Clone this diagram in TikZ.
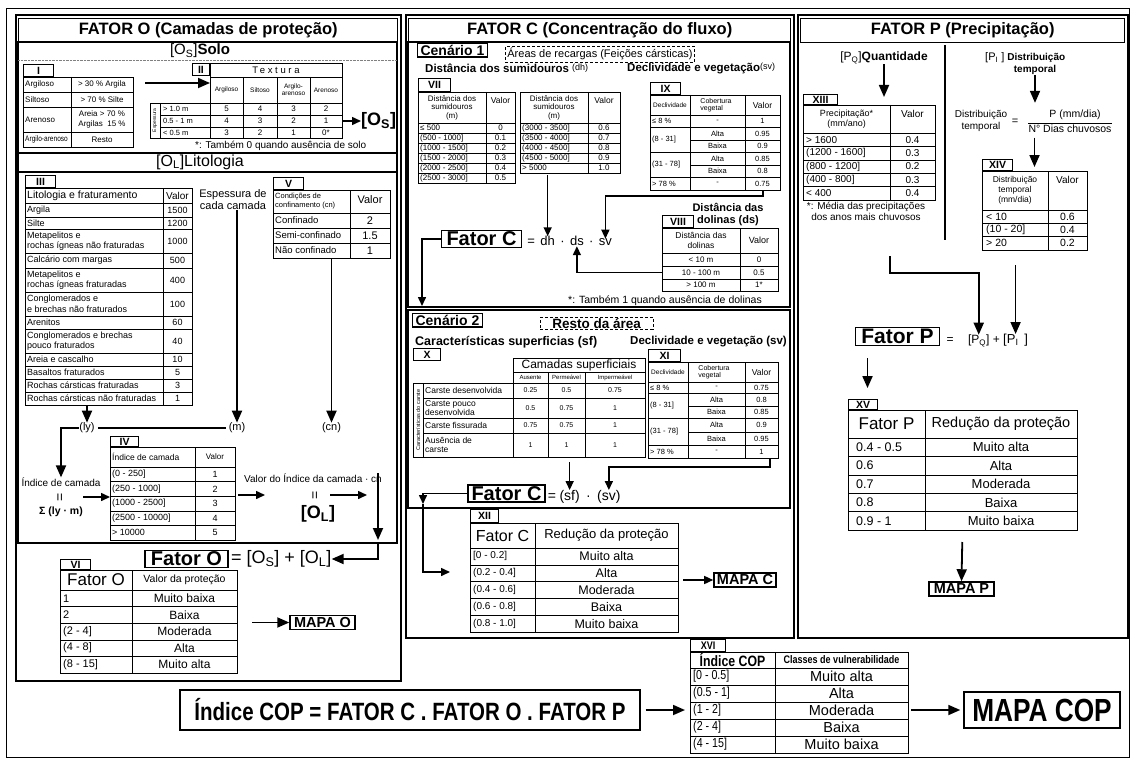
\documentclass[tikz,border=0pt]{standalone}
\usepackage{fontspec}
\setmainfont{Liberation Sans}
\newfontfamily\narrowfont[FakeStretch=0.82]{Liberation Sans}
\usepackage{tikz}
\usetikzlibrary{arrows.meta, positioning}
\newcommand{\fsz}[2]{\fontsize{#1}{#2}\selectfont}

\begin{document}
\begin{tikzpicture}[
        x=1pt, y=-1pt,
        panel/.style={draw, line width=1.8pt, anchor=north west, inner sep=0pt},
        sec/.style={line width=1.1pt},
        ttl/.style={draw, line width=1.4pt, anchor=north west, inner sep=0pt, minimum height=24pt, font=\fsz{16.5}{18}\bfseries},
        tbl/.style={draw, line width=0.9pt, anchor=north west, inner sep=0pt, outer sep=0pt},
        grid/.style={line width=0.6pt},
        tab/.style={draw, line width=1.1pt, anchor=south west, inner sep=0pt, minimum height=12pt, font=\fsz{10.5}{10.5}\bfseries},
        txt/.style={inner sep=0pt, align=center},
        key/.style={draw, line width=1.5pt, inner sep=2pt},
        dsh/.style={draw, densely dashed, line width=0.8pt, inner sep=2pt},
        arr/.style={-{Triangle[length=9pt,width=8pt]}, line width=1.5pt},
        arrL/.style={-{Triangle[length=12pt,width=10pt]}, line width=1.8pt}
    ]
        \path[fill=white, use as bounding box] (0,0) rectangle (1131,757);
        \draw[line width=0.8pt] (6,8) rectangle (1129,757);

        % ---------- FATOR O ----------
        \node[panel, minimum width=385pt, minimum height=666pt] (pO) at (15,14) {};
        \node[ttl, minimum width=379pt] (ttlO) at (18,18) {FATOR O (Camadas de proteção)};

        % Solo
        \draw[sec] (18,42) rectangle (397,153);
        \draw[gray, densely dotted] (18,60) -- (397,60);
        \node[txt, font=\fsz{15}{16}] (solo) at (200,51) {[O\textsubscript{S}]\textbf{Solo}};

        % Tabela I
        \node[tbl, minimum width=110pt, minimum height=70pt] (t1) at (23,77) {};
        \node[tab, minimum width=30pt] at (t1.north west) {I};
        \draw[grid] (71,77) -- (71,147);
        \foreach \y in {92,107,132} \draw[grid] (23,\y) -- (133,\y);
        \foreach \a/\b/\n/\v in {77/92/Argiloso/{> 30 \% Argila}, 92/107/Siltoso/{> 70 \% Silte}, 107/132/Arenoso/{Areia > 70 \%\\Argilas \ 15 \%}, 132/147/{\narrowfont Argilo-arenoso}/Resto}{
            \node[txt, anchor=west, font=\fsz{8}{9}] at (25,{(\a+\b)/2}) {\n};
            \node[txt, font=\fsz{8}{9.5}] at (102,{(\a+\b)/2}) {\v};
        }

        % Tabela II
        \node[tbl, minimum width=132pt, minimum height=14pt, font=\fsz{9.5}{10}\addfontfeature{LetterSpace=28}] (t2h) at (210,63) {Textura};
        \node[tab, minimum width=17pt, anchor=north east] at (t2h.north west) {II};
        \node[tbl, minimum width=132pt, minimum height=26pt] (t2s) at (210,77) {};
        \node[tbl, minimum width=192pt, minimum height=35pt] (t2) at (150,103) {};
        \foreach \x in {243,277,310} \draw[grid] (\x,77) -- (\x,138);
        \draw[grid] (160,103) -- (160,138) (210,103) -- (210,138);
        \foreach \y in {115,127} \draw[grid] (160,\y) -- (342,\y);
        \foreach \x/\t in {226.5/Argiloso, 260/Siltoso, 293.5/{Argilo-\\arenoso}, 326/Arenoso}
            \node[txt, font=\fsz{6.5}{7}] at (\x,90) {\t};
        \node[txt, rotate=90, font=\fsz{5}{5}] at (155,120.5) {Espessura};
        \foreach \y/\e/\p/\q/\r/\s in {109/{> 1.0 m}/5/4/3/2, 121/{0.5 - 1 m}/4/3/2/1, 132.5/{< 0.5 m}/3/2/1/0*}{
            \node[txt, anchor=west, font=\fsz{7.5}{8}] at (163,\y) {\e};
            \foreach \x/\t in {226.5/\p, 260/\q, 293.5/\r, 326/\s}
                \node[txt, font=\fsz{8}{8}] at (\x,\y) {\t};
        }
        \coordinate (aI) at (145,83);
        \draw[arrL] (aI) -- (aI -| t2s.west);
        \node[txt, anchor=west, font=\fsz{18}{18}\bfseries] (os) at (361,121) {[O\textsubscript{S}]};
        \draw[arr] (t2.east |- os.west) -- (os.west);
        \node[txt, anchor=west, font=\fsz{10}{10}] (fn1) at (195,146) {*: Também 0 quando ausência de solo};

        % Litologia
        \draw[sec] (18,153) rectangle (397,543);
        \draw[sec] (18,172) -- (397,172);
        \node[txt, font=\fsz{16}{16}] (lito) at (200,162) {[O\textsubscript{L}]Litologia};

        % Tabela III
        \node[tbl, minimum width=167pt, minimum height=217pt] (t3) at (25,188) {};
        \node[tab, minimum width=30pt] at (t3.north west) {III};
        \draw[grid] (163,188) -- (163,405);
        \foreach \y in {203,217,229,253,268,292,316,329,353,366,379,392} \draw[grid] (25,\y) -- (192,\y);
        \node[txt, anchor=west, font=\fsz{10.5}{11}] at (27,195.5) {Litologia e fraturamento};
        \node[txt, font=\fsz{10}{11}] at (177.5,195.5) {Valor};
        \foreach \a/\b/\n/\v in {203/217/Argila/1500, 217/229/Silte/1200,
            229/253/{Metapelitos e\\rochas ígneas não fraturadas}/1000,
            253/268/{Calcário com margas}/500,
            268/292/{Metapelitos e\\rochas ígneas fraturadas}/400,
            292/316/{Conglomerados e\\e brechas não fraturados}/100,
            316/329/Arenitos/60,
            329/353/{Conglomerados e brechas\\pouco fraturados}/40,
            353/366/{Areia e cascalho}/10, 366/379/{Basaltos fraturados}/5,
            379/392/{Rochas cársticas fraturadas}/3, 392/405/{Rochas cársticas não fraturadas}/1}{
            \node[txt, anchor=west, align=left, font=\fsz{9}{10.5}] at (27,{(\a+\b)/2}) {\n};
            \node[txt, font=\fsz{9}{10}] at (177.5,{(\a+\b)/2}) {\v};
        }

        \node[txt, font=\fsz{11}{12}] (esp) at (233,200) {Espessura de\\cada camada};

        % Tabela V
        \node[tbl, minimum width=117pt, minimum height=68pt] (t5) at (273,190) {};
        \node[tab, minimum width=30pt] at (t5.north west) {V};
        \draw[grid] (350,190) -- (350,258);
        \foreach \y in {213,228,243} \draw[grid] (273,\y) -- (390,\y);
        \node[txt, anchor=west, align=left, font=\fsz{7.5}{9}] at (275,201.5) {Condições de\\confinamento (cn)};
        \node[txt, font=\fsz{11}{12}] at (370,200) {Valor};
        \foreach \a/\b/\n/\v in {213/228/Confinado/2, 228/243/Semi-confinado/1.5, 243/258/{Não confinado}/1}{
            \node[txt, anchor=west, font=\fsz{9.5}{10}] at (275,{(\a+\b)/2}) {\n};
            \node[txt, font=\fsz{11}{11}] at (370,{(\a+\b)/2}) {\v};
        }

        % (ly), (m), (cn)
        \node[txt, font=\fsz{11}{12}] (ly) at (87,428) {(ly)};
        \node[txt, font=\fsz{11}{12}] (m) at (237,428) {(m)};
        \node[txt, font=\fsz{11}{12}] (cn) at (331.5,428) {(cn)};
        \draw[arrL] (t3.south -| ly) -- (ly.north);
        \draw[arrL] (esp.south -| m) -- (m.north);
        \draw[arrL] (t5.south -| cn) -- (cn.north);
        \draw[line width=1.5pt, shorten <=3pt, shorten >=3pt] (ly.east) -- (m.west);

        % Indice de camada
        \node[txt, font=\fsz{10}{11}] (idx) at (61,482) {Índice de camada};
        \node[txt, rotate=90, font=\fsz{14}{14}] (eqA) at (61,497) {=};
        \node[txt, font=\fsz{10.5}{11}\bfseries] (sig) at (61,512) {Σ (ly · m)};
        \draw[arrL] (ly.west) -| (idx.north);

        % Tabela IV
        \node[tbl, minimum width=125pt, minimum height=93pt] (t4) at (110,447) {};
        \node[tab, minimum width=28pt, minimum height=10pt] at (t4.north west) {IV};
        \draw[grid] (195,447) -- (195,540);
        \foreach \y in {467,481.6,496.2,510.8,525.4} \draw[grid] (110,\y) -- (235,\y);
        \node[txt, anchor=west, font=\fsz{8.5}{9}] at (112,457) {Índice de camada};
        \node[txt, font=\fsz{8}{9}] at (215,457) {Valor};
        \foreach \i/\r/\v in {0/{(0 - 250]}/1, 1/{(250 - 1000]}/2, 2/{(1000 - 2500]}/3, 3/{(2500 - 10000]}/4, 4/{> 10000}/5}{
            \node[txt, anchor=west, font=\fsz{9}{9}] at (112,{474.3+14.6*\i}) {\r};
            \node[txt, font=\fsz{9}{9}] at (215,{474.3+14.6*\i}) {\v};
        }
        \draw[arr] ([xshift=22pt]eqA.center) -- (eqA -| t4.west);

        % Valor do indice -> [O_L]
        \node[txt, font=\fsz{10}{11}] (vic) at (313,478) {Valor do Índice da camada · cn};
        \node[txt, rotate=90, font=\fsz{14}{14}] (eqB) at (316,495) {=};
        \node[txt, font=\fsz{18}{18}\bfseries] (ol) at (318,514) {[O\textsubscript{L}]};
        \draw[arr, shorten <=3pt] (t4.east |- eqB) -- ++(30,0);
        \draw[arr] ([xshift=14pt]eqB.center) -- ++(37,0);
        \coordinate (vdown) at (378,473);
        \draw[arrL] (vdown) -- (378,540);

        % Fator O
        \node[key, font=\fsz{20}{20}\bfseries, inner xsep=6pt, inner ysep=1.5pt] (fatorO) at (186.5,559) {Fator O};
        \node[txt, anchor=west, font=\fsz{18}{18}] (foeq) at ([xshift=2pt]fatorO.east) {= [O\textsubscript{S}] + [O\textsubscript{L}]};
        \coordinate (vjoin) at (378,543);
        \draw[arrL] (vjoin) |- (foeq.east);

        % Tabela VI
        \node[tbl, minimum width=177pt, minimum height=103pt] (t6) at (60,570) {};
        \node[tab, minimum width=30pt, minimum height=10pt] at (t6.north west) {VI};
        \draw[grid] (132,570) -- (132,673);
        \foreach \y in {590,606.6,623.2,639.8,656.4} \draw[grid] (60,\y) -- (237,\y);
        \node[txt, font=\fsz{17}{17}] at (96,580) {Fator O};
        \node[txt, font=\fsz{10.5}{11}] at (184.5,580) {Valor da proteção};
        \foreach \i/\r/\v in {0/1/{Muito baixa}, 1/2/Baixa, 2/{(2 - 4]}/Moderada, 3/{(4 - 8]}/Alta, 4/{(8 - 15]}/{Muito alta}}{
            \node[txt, anchor=west, font=\fsz{11}{11}] at (63,{598.3+16.6*\i}) {\r};
            \node[txt, font=\fsz{12}{12}] at (184.5,{598.3+16.6*\i}) {\v};
        }
        \node[key, font=\fsz{14.5}{14.5}\bfseries, inner xsep=4pt] (mapaO) at (322.5,622.5) {MAPA O};
        \draw[arrL, shorten <=15pt] (t6.east |- mapaO) -- (mapaO.west);

        % ---------- FATOR C ----------
        \node[panel, minimum width=388pt, minimum height=623pt] (pC) at (405,14) {};
        \node[ttl, minimum width=382pt] (ttlC) at (408,18) {FATOR C (Concentração do fluxo)};

        % Cenario 1
        \draw[sec] (408,42) rectangle (790,307);
        \node[key, line width=1.1pt, anchor=north west, font=\fsz{14}{14}\bfseries, inner xsep=3pt, inner ysep=1.5pt] (cen1) at (417,43) {Cenário 1};
        \node[dsh, anchor=north west, font=\fsz{11}{11}] (rec) at (505,46) {Áreas de recargas (Feições cársticas)};
        \node[txt, anchor=west, font=\fsz{11.5}{12}\bfseries] (dhtit) at (425,68) {Distância dos sumidouros \raisebox{2pt}{\fsz{9}{9}\mdseries(dh)}};
        \node[txt, anchor=west, font=\fsz{11.5}{12}\bfseries] (svtit) at (627,68) {Declividade e vegetação\raisebox{2pt}{\fsz{9}{9}\mdseries(sv)}};

        % Tabela VII
        \node[tbl, minimum width=97pt, minimum height=91pt] (t7a) at (418,92) {};
        \node[tab, minimum width=32pt, minimum height=13pt] at (t7a.north west) {VII};
        \draw[grid] (486,92) -- (486,183);
        \foreach \y in {123,133,143,153,163,173} \draw[grid] (418,\y) -- (515,\y);
        \node[txt, font=\fsz{8}{8.5}] at (452,107.5) {Distância dos\\sumidouros\\(m)};
        \node[txt, font=\fsz{8.5}{9}] at (500.5,100) {Valor};
        \foreach \i/\r/\v in {0/{≤ 500}/0, 1/{(500 - 1000]}/0.1, 2/{(1000 - 1500]}/0.2, 3/{(1500 - 2000]}/0.3, 4/{(2000 - 2500]}/0.4, 5/{(2500 - 3000]}/0.5}{
            \node[txt, anchor=west, font=\fsz{8}{8}] at (420,{128+10*\i}) {\r};
            \node[txt, font=\fsz{8}{8}] at (500.5,{128+10*\i}) {\v};
        }
        \node[tbl, minimum width=100pt, minimum height=81pt] (t7b) at (520,92) {};
        \draw[grid] (588,92) -- (588,173);
        \foreach \y in {123,133,143,153,163} \draw[grid] (520,\y) -- (620,\y);
        \node[txt, font=\fsz{8}{8.5}] at (554,107.5) {Distância dos\\sumidouros\\(m)};
        \node[txt, font=\fsz{8.5}{9}] at (604,100) {Valor};
        \foreach \i/\r/\v in {0/{(3000 - 3500]}/0.6, 1/{(3500 - 4000]}/0.7, 2/{(4000 - 4500]}/0.8, 3/{(4500 - 5000]}/0.9, 4/{> 5000}/1.0}{
            \node[txt, anchor=west, font=\fsz{8}{8}] at (522,{128+10*\i}) {\r};
            \node[txt, font=\fsz{8}{8}] at (604,{128+10*\i}) {\v};
        }

        % Tabela IX
        \node[tbl, minimum width=130pt, minimum height=95pt] (t9) at (650,95) {};
        \node[tab, minimum width=30pt] at (t9.north west) {IX};
        \draw[grid] (690,95) -- (690,190) (745,95) -- (745,190);
        \foreach \y in {115,127.5,152.5,177.5} \draw[grid] (650,\y) -- (780,\y);
        \foreach \y in {140,165} \draw[grid] (690,\y) -- (780,\y);
        \node[txt, font=\fsz{6.5}{7}] at (670,105) {Declividade};
        \node[txt, align=left, font=\fsz{7}{7.5}] at (716,105) {Cobertura\\vegetal};
        \node[txt, font=\fsz{8.5}{9}] at (762.5,105) {Valor};
        \foreach \y/\d in {121.25/{≤ 8 \%}, 140/{(8 - 31]}, 165/{(31 - 78]}, 183.75/{> 78 \%}}
            \node[txt, anchor=west, font=\fsz{7.5}{8}] at (652,\y) {\d};
        \foreach \y/\c/\v in {121.25/-/1, 133.75/Alta/0.95, 146.25/Baixa/0.9, 158.75/Alta/0.85, 171.25/Baixa/0.8, 183.75/-/0.75}{
            \node[txt, font=\fsz{7.5}{8}] at (717.5,\y) {\c};
            \node[txt, font=\fsz{7.5}{8}] at (762.5,\y) {\v};
        }

        % Fator C = dh . ds . sv
        \node[key, font=\fsz{20}{20}\bfseries, inner xsep=5pt, inner ysep=1.5pt] (fatorC1) at (481.5,239) {Fator C};
        \node[txt, font=\fsz{13}{13}, base right=5pt of fatorC1] (eqc) {=};
        \node[txt, font=\fsz{13}{13}, base right=5pt of eqc] (dh) {dh};
        \node[txt, font=\fsz{13}{13}, base right=5pt of dh] (dot1) {·};
        \node[txt, font=\fsz{13}{13}, base right=5pt of dot1] (ds) {ds};
        \node[txt, font=\fsz{13}{13}, base right=5pt of ds] (dot2) {·};
        \node[txt, font=\fsz{13}{13}, base right=5pt of dot2] (sv) {sv};
        \draw[arr, shorten <=2pt] (t7b.south -| dh.north) -- (dh.north);
        \draw[arr] ([xshift=48pt]t9.south) -- ++(0,6) -| (sv.north);

        % Tabela VIII
        \node[txt, font=\fsz{11}{12}\bfseries] (dstit) at (728,215) {Distância das\\dolinas (ds)};
        \node[tbl, minimum width=116pt, minimum height=63pt] (t8) at (662,228) {};
        \node[tab, minimum width=31pt] at (t8.north west) {VIII};
        \draw[grid] (740,228) -- (740,291);
        \foreach \y in {253,266,279} \draw[grid] (662,\y) -- (778,\y);
        \node[txt, font=\fsz{8.5}{9.5}] at (701,240.5) {Distância das\\dolinas};
        \node[txt, font=\fsz{9}{9}] at (759,240.5) {Valor};
        \foreach \y/\r/\v in {259.5/{< 10 m}/0, 272.5/{10 - 100 m}/0.5, 285/{> 100 m}/1*}{
            \node[txt, font=\fsz{8}{8}] at (701,\y) {\r};
            \node[txt, font=\fsz{8}{8}] at (759,\y) {\v};
        }
        \draw[arr] (t8.west |- 0,272.5) -| (ds.south);
        \node[txt, anchor=east, font=\fsz{10.5}{11}] (fn2) at (762,301) {*: Também 1 quando ausência de dolinas};

        \coordinate (c1end) at (422,306);
        \draw[arr] (fatorC1.west) -| (c1end);

        % Cenario 2
        \draw[sec] (408,310) rectangle (790,508);
        \node[key, line width=1.1pt, anchor=north west, font=\fsz{14}{14}\bfseries, inner xsep=3pt, inner ysep=1.5pt] (cen2) at (412,313) {Cenário 2};
        \node[dsh, anchor=north west, font=\fsz{13.5}{14}\bfseries, inner xsep=12pt, inner ysep=1pt] (resto) at (540,317) {Resto da área};
        \node[txt, anchor=west, font=\fsz{12.5}{13}\bfseries] (sftit) at (415,342) {Características superficias (sf)};
        \node[txt, anchor=west, font=\fsz{11.5}{12}\bfseries] (sv2tit) at (630,342) {Declividade e vegetação (sv)};

        % Tabela X
        \node[tab, anchor=north west, minimum width=27pt] (l10) at (413,348) {X};
        \node[tbl, minimum width=132pt, minimum height=14pt, font=\fsz{12}{12}] (t10h) at (513,358) {Camadas superficiais};
        \node[tbl, minimum width=132pt, minimum height=11pt] (t10s) at (513,372) {};
        \node[tbl, minimum width=232pt, minimum height=74pt] (t10) at (413,383) {};
        \draw[grid] (548,372) -- (548,457) (585,372) -- (585,457);
        \draw[grid] (423,383) -- (423,457) (513,383) -- (513,457);
        \foreach \y in {398,418,433} \draw[grid] (423,\y) -- (645,\y);
        \foreach \x/\t in {530.5/Ausente, 566.5/Permeável, 615/Impermeável}
            \node[txt, font=\fsz{6}{6}] at (\x,377.5) {\t};
        \node[txt, rotate=90, font=\fsz{5.5}{6}] at (418,420) {Características do carste};
        \foreach \a/\b/\n/\p/\q/\r in {383/398/{Carste desenvolvida}/0.25/0.5/0.75, 398/418/{Carste pouco\\desenvolvida}/0.5/0.75/1, 418/433/{Carste fissurada}/0.75/0.75/1, 433/457/{Ausência de\\carste}/1/1/1}{
            \node[txt, anchor=west, align=left, font=\fsz{8.5}{9.5}] at (425,{(\a+\b)/2}) {\n};
            \foreach \x/\t in {530.5/\p, 566.5/\q, 615/\r}
                \node[txt, font=\fsz{7}{7}] at (\x,{(\a+\b)/2}) {\t};
        }

        % Tabela XI
        \node[tbl, minimum width=130pt, minimum height=96pt] (t11) at (648,362) {};
        \node[tab, minimum width=32pt] at (t11.north west) {XI};
        \draw[grid] (688,362) -- (688,458) (745,362) -- (745,458);
        \foreach \y in {382,393,418,445} \draw[grid] (648,\y) -- (778,\y);
        \foreach \y in {406,432} \draw[grid] (688,\y) -- (778,\y);
        \node[txt, font=\fsz{6.5}{7}] at (668,372) {Declividade};
        \node[txt, align=left, font=\fsz{7}{7.5}] at (714,372) {Cobertura\\vegetal};
        \node[txt, font=\fsz{8.5}{9}] at (761.5,372) {Valor};
        \foreach \y/\d in {387.5/{≤ 8 \%}, 405.5/{(8 - 31]}, 431.5/{(31 - 78]}, 451.5/{> 78 \%}}
            \node[txt, anchor=west, font=\fsz{7.5}{8}] at (650,\y) {\d};
        \foreach \y/\c/\v in {387.5/-/0.75, 399.5/Alta/0.8, 412/Baixa/0.85, 425/Alta/0.9, 438.5/Baixa/0.95, 451.5/-/1}{
            \node[txt, font=\fsz{7.5}{8}] at (716.5,\y) {\c};
            \node[txt, font=\fsz{7.5}{8}] at (761.5,\y) {\v};
        }

        % Fator C = (sf) . (sv)
        \node[key, font=\fsz{20}{20}\bfseries, inner xsep=3.5pt, inner ysep=1.5pt] (fatorC2) at (506.5,493.5) {Fator C};
        \node[txt, font=\fsz{14}{14}, base right=2pt of fatorC2] (eqc2) {=};
        \node[txt, font=\fsz{14}{14}, base right=3pt of eqc2] (sf) {(sf)};
        \node[txt, font=\fsz{14}{14}, base right=6pt of sf] (dot3) {·};
        \node[txt, font=\fsz{14}{14}, base right=6pt of dot3] (sv2) {(sv)};
        \draw[arr, shorten <=5pt] (t10.south -| sf.north) -- (sf.north);
        \draw[arr] ([xshift=57pt]t11.south) -- ++(0,9) -| (sv2.north);
        \coordinate (c2mid) at (423,504);
        \coordinate (c2end) at (450,572);
        \draw[arr] (fatorC2.west) -| (c2mid);
        \draw[arr] (c2mid) |- (c2end);

        % Tabela XII
        \node[tbl, minimum width=208pt, minimum height=109pt] (t12) at (470,523) {};
        \node[tab, minimum width=28pt, minimum height=13pt] at (t12.north west) {XII};
        \draw[grid] (535,523) -- (535,632);
        \foreach \y in {548,564.8,581.6,598.4,615.2} \draw[grid] (470,\y) -- (678,\y);
        \node[txt, font=\fsz{16}{16}] at (502.5,535.5) {Fator C};
        \node[txt, font=\fsz{13}{13}] at (606.5,535.5) {Redução da proteção};
        \foreach \i/\r/\v in {0/{[0 - 0.2]}/{Muito alta}, 1/{(0.2 - 0.4]}/Alta, 2/{(0.4 - 0.6]}/Moderada, 3/{(0.6 - 0.8]}/Baixa, 4/{(0.8 - 1.0]}/{Muito baixa}}{
            \node[txt, anchor=west, font=\fsz{10}{10}] at (473,{556.4+16.8*\i}) {\r};
            \node[txt, font=\fsz{12.5}{12.5}] at (606.5,{556.4+16.8*\i}) {\v};
        }
        \node[key, font=\fsz{14.5}{14.5}\bfseries, inner xsep=3pt] (mapaC) at (745,580) {MAPA C};
        \draw[arr, shorten <=5pt] (t12.east |- mapaC) -- (mapaC.west);

        % ---------- FATOR P ----------
        \node[panel, minimum width=330pt, minimum height=623pt] (pP) at (797,14) {};
        \node[ttl, minimum width=324pt] (ttlP) at (800,18) {FATOR P (Precipitação)};
        \draw[line width=1.1pt] (945,45) -- (945,240);

        \node[txt, font=\fsz{12}{12}] (pq) at (884,58) {[P\textsubscript{Q}]\textbf{Quantidade}};
        \node[txt, anchor=west, font=\fsz{11}{12}] (pi) at (985,58) {[P\textsubscript{I} ] \textbf{\fsz{10}{12}Distribuição}};
        \node[txt, font=\fsz{10}{12}\bfseries] (pitemp) at (1035,70) {temporal};

        % Tabela XIII
        \node[tbl, minimum width=132pt, minimum height=95pt] (t13) at (803,105) {};
        \node[tab, minimum width=34pt, minimum height=10pt] at (t13.north west) {XIII};
        \draw[grid] (890,105) -- (890,200);
        \foreach \y in {133,146.4,159.8,173.2,186.6} \draw[grid] (803,\y) -- (935,\y);
        \node[txt, font=\fsz{9}{10.5}] at (846.5,119) {Precipitação*\\(mm/ano)};
        \node[txt, font=\fsz{10}{10}] at (912.5,114) {Valor};
        \foreach \i/\r/\v in {0/{> 1600}/0.4, 1/{(1200 - 1600]}/0.3, 2/{(800 - 1200]}/0.2, 3/{(400 - 800]}/0.3, 4/{< 400}/0.4}{
            \node[txt, anchor=west, font=\fsz{10}{10}] at (806,{139.7+13.4*\i}) {\r};
            \node[txt, font=\fsz{10}{10}] at (912.5,{139.7+13.4*\i}) {\v};
        }
        \node[txt, font=\fsz{10}{11}] (fn3) at (866,211) {*: Média das precipitações\\dos anos mais chuvosos};
        \draw[arrL, shorten >=8pt] (pq.south) -- (pq.south |- t13.north);

        % Distribuicao temporal
        \node[txt, font=\fsz{10}{12}] (dtl) at (981,121) {Distribuição\\temporal};
        \node[txt, font=\fsz{11}{11}] (dteq) at (1015,122) {=};
        \node[txt, font=\fsz{10.5}{11}] (frn) at (1075,115) {P (mm/dia)};
        \node[txt, font=\fsz{10.5}{11}] (frd) at (1070,128.5) {N° Dias chuvosos};
        \draw[line width=0.8pt] ([yshift=1pt]frd.north west) -- ([yshift=1pt]frd.north east);
        \draw[arrL] (pitemp.south) -- ++(0,28);

        % Tabela XIV
        \node[tbl, minimum width=105pt, minimum height=79pt] (t14) at (982,171) {};
        \node[tab, minimum width=30pt, minimum height=11pt] at (t14.north west) {XIV};
        \draw[grid] (1048,171) -- (1048,250);
        \foreach \y in {210,223.3,236.6} \draw[grid] (982,\y) -- (1087,\y);
        \node[txt, font=\fsz{8.5}{10}] at (1015,190.5) {Distribuição\\temporal\\(mm/dia)};
        \node[txt, font=\fsz{10}{10}] at (1067.5,180) {Valor};
        \foreach \i/\r/\v in {0/{< 10}/0.6, 1/{(10 - 20]}/0.4, 2/{> 20}/0.2}{
            \node[txt, anchor=west, font=\fsz{10.5}{10.5}] at (986,{216.6+13.3*\i}) {\r};
            \node[txt, font=\fsz{10.5}{10.5}] at (1067.5,{216.6+13.3*\i}) {\v};
        }
        \draw[arrL, shorten <=5pt, shorten >=4pt] (t14.north |- frd.south) -- (t14.north);

        % Fator P = [PQ] + [PI]
        \node[key, font=\fsz{21}{21}\bfseries, inner xsep=6pt, inner ysep=1.5pt] (fatorP) at (897.5,336.5) {Fator P};
        \node[txt, font=\fsz{12}{12}, base right=6pt of fatorP] (peq) {=};
        \node[txt, font=\fsz{12}{12}, base right=14pt of peq] (pqeq) {[P\textsubscript{Q}]};
        \node[txt, font=\fsz{12}{12}, base right=3pt of pqeq] (plus) {+};
        \node[txt, font=\fsz{13}{13}, base right=3pt of plus] (pieq) {[P\textsubscript{I} \,]};
        \coordinate (c13) at (890,256);
        \draw[arrL] (c13) -- ++(0,17) -| (pqeq.north);
        \draw[arrL, shorten <=15pt] (t14.south -| pieq.north) -- (pieq.north);
        \draw[arrL] ([xshift=-30pt,yshift=-12pt]fatorP.south) -- ++(0,30);

        % Tabela XV
        \node[tbl, minimum width=229pt, minimum height=120pt] (t15) at (848,410) {};
        \node[tab, minimum width=29pt, minimum height=10pt] at (t15.north west) {XV};
        \draw[grid] (925,410) -- (925,530);
        \foreach \y in {438,456.4,474.8,493.2,511.6} \draw[grid] (848,\y) -- (1077,\y);
        \node[txt, font=\fsz{17}{17}] at (886.5,424) {Fator P};
        \node[txt, font=\fsz{14.5}{14.5}] at (1001,424) {Redução da proteção};
        \foreach \i/\r/\v in {0/{0.4 - 0.5}/{Muito alta}, 1/0.6/Alta, 2/0.7/Moderada, 3/0.8/Baixa, 4/{0.9 - 1}/{Muito baixa}}{
            \node[txt, anchor=west, font=\fsz{12.5}{12.5}] at (856,{447.2+18.4*\i}) {\r};
            \node[txt, font=\fsz{13}{13}] at (1001,{447.2+18.4*\i}) {\v};
        }
        \node[key, font=\fsz{14.5}{14.5}\bfseries, inner xsep=5pt] (mapaP) at (961.5,589) {MAPA P};
        \draw[arrL, shorten <=12pt] (t15.south) -- (mapaP.north);

        % ---------- Indice COP ----------
        \node[key, line width=1.3pt, minimum width=460pt, minimum height=40pt, font={\narrowfont\bfseries\fsz{25}{25}}] (cop) at (410,710) {Índice COP = FATOR C . FATOR O . FATOR P};

        % Tabela XVI
        \node[tbl, minimum width=218pt, minimum height=101pt] (t16) at (690,652) {};
        \node[tab, minimum width=35pt, font={\narrowfont\bfseries\fsz{11}{11}}] at (t16.north west) {XVI};
        \draw[grid] (775,652) -- (775,753);
        \foreach \y in {668,685,702,719,736} \draw[grid] (690,\y) -- (908,\y);
        \node[txt, font={\narrowfont\bfseries\fsz{15}{15}}] at (732.5,660) {Índice COP};
        \node[txt, font={\narrowfont\bfseries\fsz{11}{11}}] at (841.5,660) {Classes de vulnerabilidade};
        \foreach \i/\r/\v in {0/{[0 - 0.5]}/{Muito alta}, 1/{(0.5 - 1]}/Alta, 2/{(1 - 2]}/Moderada, 3/{(2 - 4]}/Baixa, 4/{(4 - 15]}/{Muito baixa}}{
            \node[txt, anchor=west, font={\narrowfont\fsz{13}{13}}] at (693,{676.5+17*\i}) {\r};
            \node[txt, font=\fsz{14.5}{14.5}] at (841.5,{676.5+17*\i}) {\v};
        }
        \node[key, line width=2pt, inner xsep=8pt, minimum height=36pt, font={\narrowfont\bfseries\fsz{32}{32}}] (mapaCOP) at (1042,710) {MAPA COP};
        \draw[arrL, shorten <=5pt, shorten >=5pt] (cop.east) -- (cop.east -| t16.west);
        \draw[arrL, shorten <=3pt, shorten >=3pt] (t16.east |- mapaCOP.west) -- (mapaCOP.west);

    \end{tikzpicture}
\end{document}
